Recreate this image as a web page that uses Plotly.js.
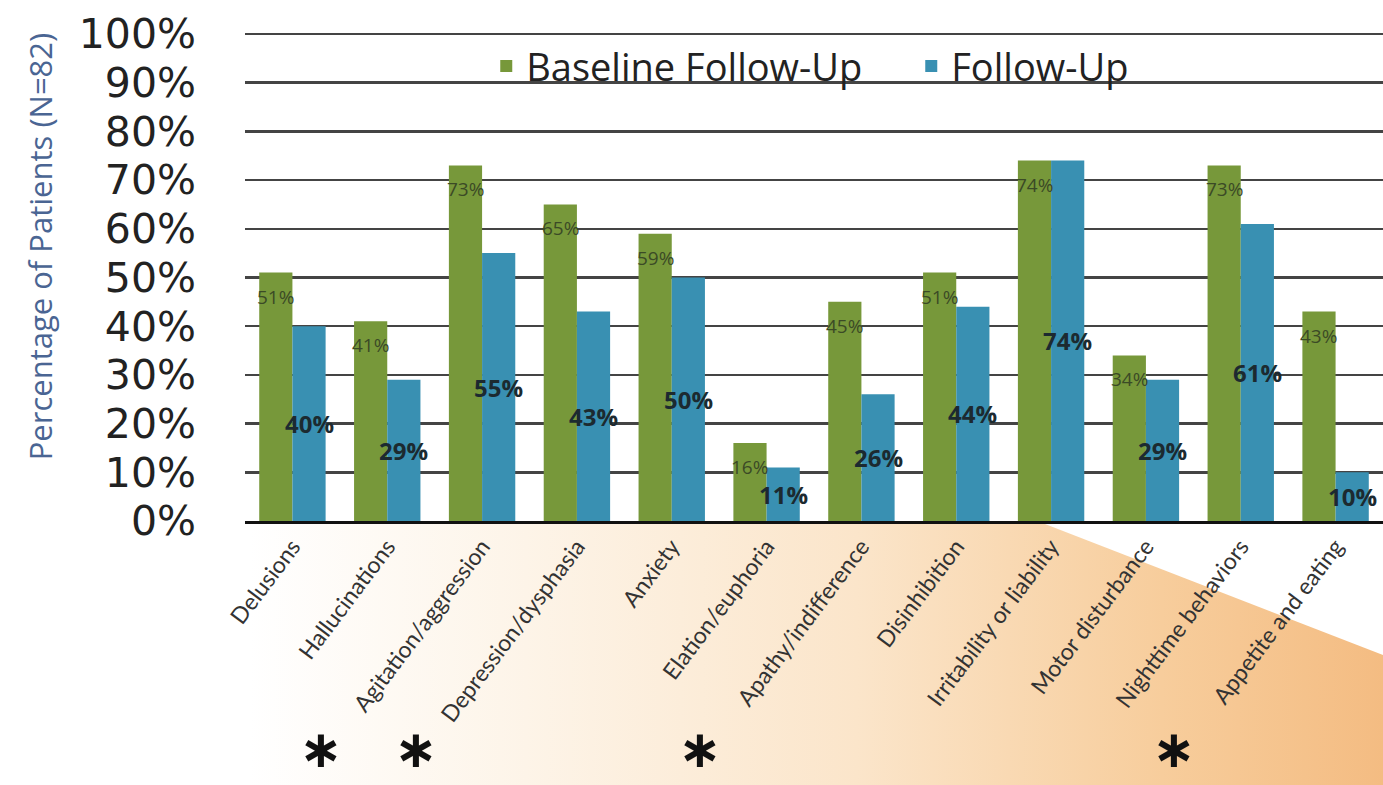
<!DOCTYPE html>
<html>
<head>
<meta charset="utf-8">
<script src="https://cdn.plot.ly/plotly-3.0.1.min.js"></script>
<style>
  html, body { margin: 0; padding: 0; background: #ffffff; }
  #wrap { position: relative; width: 1383px; height: 785px; overflow: hidden; }
  #bg {
    position: absolute; left: 0; top: 0; width: 1383px; height: 785px; z-index: 0;
    background: linear-gradient(to right, rgba(255,255,255,0) 18%, #fdf4e8 38%, #fbe5ca 62%, #f7cd9c 84%, #f4bc82 100%);
    clip-path: polygon(250px 524px, 1045px 524px, 1383px 655px, 1383px 785px, 250px 785px);
  }
  #chart { position: absolute; left: 0; top: 0; z-index: 1; }
</style>
</head>
<body>
<div id="wrap">
  <div id="bg"></div>
  <div id="chart"></div>
</div>
<script>
const categories = ["Delusions", "Hallucinations", "Agitation/aggression", "Depression/dysphasia",
  "Anxiety", "Elation/euphoria", "Apathy/indifference", "Disinhibition",
  "Irritability or liability", "Motor disturbance", "Nighttime behaviors", "Appetite and eating"];
const baselineValues = [51, 41, 73, 65, 59, 16, 45, 51, 74, 34, 73, 43];
const followUpValues = [40, 29, 55, 43, 50, 11, 26, 44, 74, 29, 61, 10];
const starredCategories = ["Agitation/aggression", "Depression/dysphasia", "Apathy/indifference", "Appetite and eating"];
const seriesNames = ["Baseline Follow-Up", "Follow-Up"];
const yTickValues = [0, 10, 20, 30, 40, 50, 60, 70, 80, 90, 100];
const yTickLabels = ["0%", "10%", "20%", "30%", "40%", "50%", "60%", "70%", "80%", "90%", "100%"];
const yAxisTitle = "Percentage of Patients (N=82)";

const GREEN = "#77983a";
const BLUE = "#3990b2";

const traces = [
  { type: "bar", name: seriesNames[0], x: categories, y: baselineValues,
    marker: { color: GREEN }, hoverinfo: "skip" },
  { type: "bar", name: seriesNames[1], x: categories, y: followUpValues,
    marker: { color: BLUE }, hoverinfo: "skip" }
];

const annotations = [];
baselineValues.forEach((v, i) => {
  annotations.push({ xref: "x", yref: "y", x: i - 0.175, y: v, yshift: -24,
    text: v + "%", showarrow: false,
    font: { family: "Open Sans, sans-serif", size: 19, color: "#3b4a26" } });
});
followUpValues.forEach((v, i) => {
  annotations.push({ xref: "x", yref: "y", x: i + 0.175, y: v / 2,
    text: "<b>" + v + "%</b>", showarrow: false,
    font: { family: "Open Sans, sans-serif", size: 24, color: "#1c2a30" } });
});
starredCategories.forEach(c => {
  const idx = categories.indexOf(c);
  annotations.push({ xref: "x", yref: "paper", x: idx - 1.7, y: -0.532,
    text: "<b>\u2217</b>", showarrow: false, yanchor: "bottom",
    font: { family: "DejaVu Sans, sans-serif", size: 52, color: "#111" } });
});
annotations.push({ xref: "paper", yref: "paper", x: -0.18, y: 0.562, textangle: -90,
  text: yAxisTitle, showarrow: false, xanchor: "center", yanchor: "middle",
  font: { family: "Open Sans, sans-serif", size: 31, color: "#4a6593" } });

const layout = {
  width: 1383, height: 785,
  margin: { l: 245, r: 0, t: 32, b: 264 },
  paper_bgcolor: "rgba(0,0,0,0)",
  plot_bgcolor: "rgba(0,0,0,0)",
  barmode: "group", bargap: 0.3, bargroupgap: 0,
  showlegend: true,
  legend: { orientation: "h", x: 0.212, xanchor: "left", y: 0.93, yanchor: "middle",
    bgcolor: "rgba(0,0,0,0)", entrywidth: 380, entrywidthmode: "pixels",
    font: { family: "Open Sans, sans-serif", size: 38, color: "#222" } },
  xaxis: { type: "category", range: [-0.5, 11.5], tickangle: -53,
    tickfont: { family: "Lato, sans-serif", size: 23, color: "#333" },
    showgrid: false, showline: true, linecolor: "#111", linewidth: 3,
    ticks: "", fixedrange: true },
  yaxis: { range: [0, 100.4], tickmode: "array", tickvals: yTickValues, ticktext: yTickLabels,
    tickfont: { family: "DejaVu Sans, sans-serif", size: 41, color: "#222" },
    gridcolor: "#444", gridwidth: 2.5, zeroline: false, showline: false,
    ticks: "", ticklabelstandoff: 48, fixedrange: true },
  annotations: annotations
};

Plotly.newPlot("chart", traces, layout, { displayModeBar: false, staticPlot: true });
</script>
</body>
</html>
